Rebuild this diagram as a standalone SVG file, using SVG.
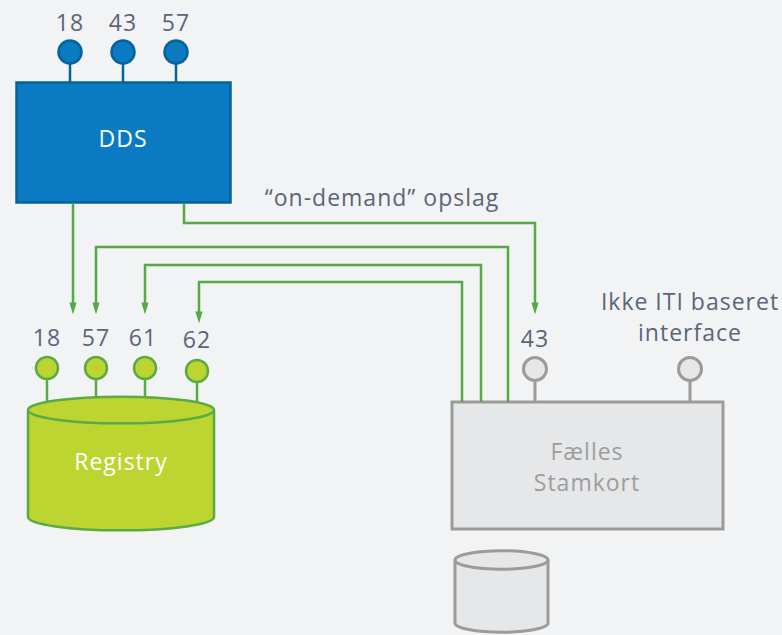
<svg xmlns="http://www.w3.org/2000/svg" width="782" height="635" viewBox="0 0 782 635">
<defs>
<style>
.lbl{font-family:"Open Sans","Noto Sans","Liberation Sans",sans-serif;font-size:23px;letter-spacing:1px;fill:#5b6577;text-anchor:middle}
.blue{fill:#0a7bc2;stroke:#07629b;stroke-width:2.5}
.bstem{stroke:#07629b;stroke-width:2.5;fill:none}
.green{fill:#bcd531;stroke:#5aab46;stroke-width:2.5}
.gstem{stroke:#5aab46;stroke-width:2.5;fill:none}
.grey{fill:#e6e7e9;stroke:#9b9b9b;stroke-width:3}
.gystem{stroke:#9b9b9b;stroke-width:3;fill:none}
.conn{stroke:#56aa46;stroke-width:2.5;fill:none}
.wt{font-family:"Open Sans","Noto Sans","Liberation Sans",sans-serif;font-size:23px;letter-spacing:1px;fill:#ffffff;text-anchor:middle}
.gt{font-family:"Open Sans","Noto Sans","Liberation Sans",sans-serif;font-size:23px;letter-spacing:1px;fill:#9d9d9d;text-anchor:middle}
</style>
<marker id="arr" markerWidth="12" markerHeight="20" refX="11" refY="6" orient="auto" markerUnits="userSpaceOnUse" viewBox="0 0 20 12">
<path d="M0,0 L20,6 L0,12 Z" fill="#56aa46"/>
</marker>
</defs>
<rect width="782" height="635" fill="#f1f3f5"/>

<g id="dds">
<line class="bstem" x1="70" y1="62" x2="70" y2="82"/>
<line class="bstem" x1="123" y1="62" x2="123" y2="82"/>
<line class="bstem" x1="176" y1="62" x2="176" y2="82"/>
<circle class="blue" cx="70" cy="52" r="11.5"/>
<circle class="blue" cx="123" cy="52" r="11.5"/>
<circle class="blue" cx="176" cy="52" r="11.5"/>
<text class="lbl" x="70" y="31">18</text>
<text class="lbl" x="123" y="31">43</text>
<text class="lbl" x="176" y="31">57</text>
<rect class="blue" x="16.5" y="82.5" width="214" height="120"/>
<text class="wt" x="123" y="147">DDS</text>
</g>

<g id="registry">
<line class="gstem" x1="47" y1="378" x2="47" y2="401"/>
<line class="gstem" x1="96" y1="378" x2="96" y2="398"/>
<line class="gstem" x1="145" y1="378" x2="145" y2="398"/>
<line class="gstem" x1="197" y1="381" x2="197" y2="402"/>
<circle class="green" cx="47" cy="368" r="11"/>
<circle class="green" cx="96" cy="368" r="11"/>
<circle class="green" cx="145" cy="368" r="11"/>
<circle class="green" cx="197" cy="371" r="11"/>
<text class="lbl" x="47" y="346">18</text>
<text class="lbl" x="96" y="346">57</text>
<text class="lbl" x="143" y="346">61</text>
<text class="lbl" x="197" y="348">62</text>
<path class="green" d="M28,410 L28,517 A93,13.3 0 0 0 214,517 L214,410"/>
<ellipse class="green" cx="121" cy="410" rx="93" ry="13.3"/>
<text class="wt" x="121" y="470">Registry</text>
</g>

<g id="stamkort">
<line class="gystem" x1="535" y1="380" x2="535" y2="402"/>
<line class="gystem" x1="690" y1="380" x2="690" y2="402"/>
<circle class="grey" cx="535" cy="369" r="11.5"/>
<circle class="grey" cx="690" cy="369" r="11.5"/>
<text class="lbl" x="535" y="347">43</text>
<text class="lbl" x="690" y="310">Ikke ITI baseret</text>
<text class="lbl" x="690" y="341">interface</text>
<rect class="grey" x="452" y="402" width="271" height="127"/>
<text class="gt" x="587" y="460">Fælles</text>
<text class="gt" x="587" y="491">Stamkort</text>
</g>

<g id="db">
<path class="grey" d="M455,560 L455,623 A46.5,9.3 0 0 0 548,623 L548,560"/>
<ellipse class="grey" cx="501.5" cy="560" rx="46.5" ry="9.3"/>
</g>

<g id="connectors">
<path class="conn" d="M73,203 L73,309" marker-end="url(#arr)"/>
<path class="conn" d="M184,203 L184,223 L535,223 L535,309" marker-end="url(#arr)"/>
<path class="conn" d="M508,402 L508,247 L96,247 L96,309" marker-end="url(#arr)"/>
<path class="conn" d="M481,402 L481,265 L145,265 L145,309" marker-end="url(#arr)"/>
<path class="conn" d="M462,402 L462,282 L199,282 L199,318" marker-end="url(#arr)"/>
<text class="lbl" x="382" y="206">“on-demand” opslag</text>
</g>
</svg>
